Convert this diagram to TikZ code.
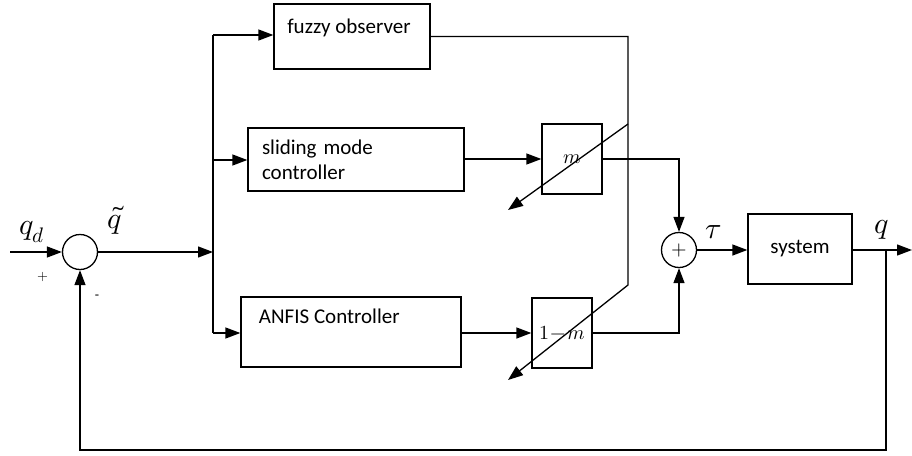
\documentclass[tikz,border=0pt]{standalone}
\usepackage{fontspec}
\usepackage{unicode-math}
\setmainfont{Carlito}
\setmathfont{Latin Modern Math}
\usetikzlibrary{arrows.meta}
\begin{document}
\begin{tikzpicture}[x=1pt,y=-1pt,line width=1.3pt,
  >={Triangle[length=15pt,width=11pt]},
  blk/.style={draw, rectangle, inner sep=0pt},
  sumc/.style={draw, circle, minimum size=35pt, inner sep=0pt},
  txt/.style={font=\fontsize{21}{25}\selectfont},
  sym/.style={font=\fontsize{30}{30}\selectfont, inner sep=0pt}]
\useasboundingbox (0,0) rectangle (912,455);
% blocks
\node[blk, minimum width=156pt, minimum height=65pt] (fo) at (352,36.5) {};
\node[txt] (folbl) at (349,28) {fuzzy observer};
\node[blk, txt, align=left, text width=188pt, minimum width=216pt, minimum height=63pt] (smc) at (356,159.5) {sliding mode\\controller};
\node[blk, minimum width=220pt, minimum height=70pt] (anfis) at (351,332) {};
\node[txt, anchor=west] (anfislbl) at (255,316) {ANFIS Controller};
\node[blk, minimum width=60pt, minimum height=70pt, font=\fontsize{20}{20}\selectfont] (m) at (572,159) {$m$};
\node[blk, minimum width=60pt, minimum height=70pt, font=\fontsize{20}{20}\selectfont] (onem) at (562,333) {$1\!-\!m$};
\node[blk, txt, minimum width=104pt, minimum height=70pt] (sys) at (800,249) {system};
% summing points
\node[sumc] (s1) at (80,252) {};
\node[sumc, font=\fontsize{20}{20}\selectfont] (s2) at (679,250) {$+$};
% signals
\coordinate (in) at (10,252);
\coordinate (b1) at (213,35);
\coordinate (b2) at (213,160);
\coordinate (b3) at (213,333);
\coordinate (t1) at (628,124);
\coordinate (t2) at (628,285);
\coordinate (e1) at (508,210);
\coordinate (e2) at (508,380);
\coordinate (fb) at (886,250);
\coordinate (out) at (912,250);
% labels
\node[sym] (qd) at (32,232) {$q_d$};
\node[font=\fontsize{14}{14}\selectfont] (plus) at (43,277) {$+$};
\node[font=\fontsize{14}{14}\selectfont] (minus) at (97,297) {-};
\node[sym] (qt) at (115,220) {$\tilde q$};
\node[sym] (tau) at (714,232) {$\tau$};
\node[sym] (q) at (882,230) {$q$};
% connections
\draw[->] (in) -- (s1);
\draw[->] (s1) -- (s1 -| b1);
\draw (b1) -- (b3);
\draw[->] (b1) -- (b1 -| fo.west);
\draw[->] (b2) -- (b2 -| smc.west);
\draw[->] (b3) -- (b3 -| anfis.west);
\draw[->] (smc.east |- m) -- (m);
\draw[->] (anfis.east |- onem) -- (onem);
\draw[->] (fo.east) -| (t2) -- (e2);
\draw[->] (t1) -- (e1);
\draw[->] (m.east) -| (s2.north);
\draw[->] (onem.east) -| (s2.south);
\draw[->] (s2.east) -- (s2.east -| sys.west);
\draw[->] (sys.east |- out) -- (out);
\draw[->] (fb) -- (886,450) -| (s1.south);
\end{tikzpicture}
\end{document}
